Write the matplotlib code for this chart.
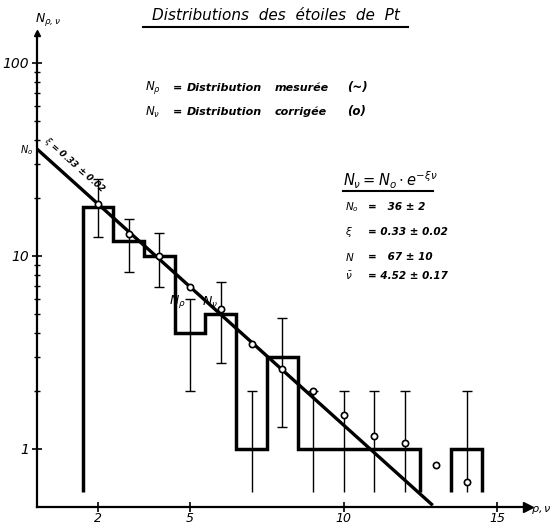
import numpy as np
import matplotlib.pyplot as plt
from matplotlib.lines import Line2D

plt.rcParams['font.family'] = 'DejaVu Sans'
plt.rcParams['font.style'] = 'italic'
plt.rcParams['mathtext.fontset'] = 'custom'
plt.rcParams['mathtext.rm'] = 'DejaVu Sans:italic'
plt.rcParams['mathtext.it'] = 'DejaVu Sans:italic'
plt.rcParams['mathtext.bf'] = 'DejaVu Sans:italic:bold'

# measured distribution N_rho (histogram)
bin_edges = [1.5, 2.5, 3.5, 4.5, 5.5, 6.5, 7.5, 8.5, 9.5, 10.5, 11.5, 12.5, 13.5, 14.5]
counts = [18, 12, 10, 4, 5, 1, 3, 1, 1, 1, 1, 0, 1]

# corrected distribution N_nu (open circles)
nu = [2, 3, 4, 5, 6, 7, 8, 9, 10, 11, 12, 13, 14]
n_corr = [18.6, 13.0, 10.0, 6.9, 5.3, 3.5, 2.6, 2.0, 1.5, 1.17, 1.07, 0.83, 0.67]

# error bars of the measured counts
err_x = [2, 3, 4, 5, 6, 7, 8, 9, 10, 11, 12, 14]
err_lo = [12.5, 8.3, 6.9, 2.0, 2.8, 0.6, 1.3, 0.6, 0.6, 0.6, 0.6, 0.6]
err_hi = [25.0, 15.5, 13.2, 6.0, 7.3, 2.0, 4.75, 2.0, 2.0, 2.0, 2.0, 2.0]

# fitted law N_nu = N0 * exp(-xi * nu)
n0 = 36
xi = 0.33
fit_range = [0, 12.9]

floor = 0.6   # bottom of drawn bars

W, H = 552, 525
def fx(px):
    return px / W
def fy(py):
    return 1 - py / H

fig = plt.figure(figsize=(W / 100, H / 100), dpi=100)
ax = fig.add_axes([fx(36.5), fy(507), (528 - 36.5) / W, (507 - 33) / H])
ax.set_yscale('log')
ax.set_xlim(0, 16)
ax.set_ylim(0.5, 143)

# histogram, split where the count is zero
vals = np.array(counts, dtype=float)
vals[vals == 0] = np.nan
ax.stairs(vals, bin_edges, baseline=floor, color='k', lw=2.5)

# fit line
fx_line = np.array(fit_range)
ax.plot(fx_line, n0 * np.exp(-xi * fx_line), color='k', lw=2.4, solid_capstyle='butt')

# error bars
ax.vlines(err_x, err_lo, err_hi, color='k', lw=1.0)
ax.plot(err_x, err_hi, '_', color='k', ms=7, mew=1.0)
lo_x = [x for x, lo in zip(err_x, err_lo) if lo > floor]
lo_y = [lo for lo in err_lo if lo > floor]
ax.plot(lo_x, lo_y, '_', color='k', ms=7, mew=1.0)

# corrected points
ax.plot(nu, n_corr, 'o', ms=4.5, mfc='white', mec='k', mew=1.2, zorder=5)

# axes look
for s in ['top', 'right']:
    ax.spines[s].set_visible(False)
for s in ['left', 'bottom']:
    ax.spines[s].set_linewidth(1.6)
ax.plot([1], [0], '>k', ms=7, transform=ax.transAxes, clip_on=False)
ax.plot([0], [1], '^k', ms=5, transform=ax.transAxes, clip_on=False)

ax.set_xticks([2, 5, 10, 15])
ax.set_xticklabels(['2', '5', '10', '15'])
ax.set_yticks([1, 10, 100])
ax.set_yticklabels(['1', '10', '100'])
ax.set_yticks([k * 10 ** e for e in (0, 1) for k in range(2, 10)], minor=True)
ax.yaxis.set_minor_formatter(plt.NullFormatter())
ax.tick_params(which='major', direction='inout', length=7, width=1.2, labelsize=10, pad=2)
ax.tick_params(axis='x', which='major', labelsize=9, pad=0)
ax.tick_params(which='minor', direction='inout', length=5, width=1.0)
ax.tick_params(axis='x', which='minor', length=0)

# title
fig.text(fx(275.5), fy(16), 'Distributions  des  étoiles  de  Pt', ha='center', va='center', fontsize=11)
fig.add_artist(Line2D([fx(143), fx(408)], [fy(27), fy(27)], color='k', lw=1.5))

# legend lines
for py, sym, word, mark in [(88, r'$N_\rho$', 'mesurée', '(~)'), (112, r'$N_\nu$', 'corrigée', '(o)')]:
    fig.text(fx(145), fy(py), sym, ha='left', va='center', fontsize=8.5, weight='bold')
    fig.text(fx(173), fy(py), '=', ha='left', va='center', fontsize=8, weight='bold')
    fig.text(fx(187), fy(py), 'Distribution', ha='left', va='center', fontsize=8, weight='bold')
    fig.text(fx(275), fy(py), word, ha='left', va='center', fontsize=8, weight='bold')
    fig.text(fx(347), fy(py), mark, ha='left', va='center', fontsize=8.5, weight='bold')

# formula and fitted parameters
fig.text(fx(343), fy(180), r'$N_\nu = N_o\cdot e^{-\xi\nu}$', ha='left', va='center', fontsize=10.5)
fig.add_artist(Line2D([fx(343), fx(433)], [fy(191), fy(191)], color='k', lw=1.5))
params = [(207, r'$N_o$', '=   36 ± 2'), (232, r'$\xi$', '= 0.33 ± 0.02'),
          (257, r'$N$', '=   67 ± 10'), (276, r'$\bar{\nu}$', '= 4.52 ± 0.17')]
for py, lab, val in params:
    fig.text(fx(345), fy(py), lab, ha='left', va='center', fontsize=7.5, weight='bold')
    fig.text(fx(368), fy(py), val, ha='left', va='center', fontsize=7.5, weight='bold')

# annotations near the curves
fig.text(fx(75), fy(165), r'$\xi$ = 0.33 ± 0.02', ha='center', va='center', fontsize=6.5,
         weight='bold', rotation=-41.5)
fig.text(fx(33), fy(150), r'$N_o$', ha='right', va='center', fontsize=7, weight='bold')
fig.text(fx(177), fy(302), r'$N_\rho$', ha='center', va='center', fontsize=9)
fig.text(fx(210), fy(302), r'$N_\nu$', ha='center', va='center', fontsize=9)

# axis names
fig.text(fx(35), fy(20), r'$N_{\rho,\nu}$', ha='left', va='center', fontsize=9)
fig.text(fx(531), fy(510), r'$\rho,\nu$', ha='left', va='center', fontsize=8)

fig.savefig('out.png', dpi=100)
